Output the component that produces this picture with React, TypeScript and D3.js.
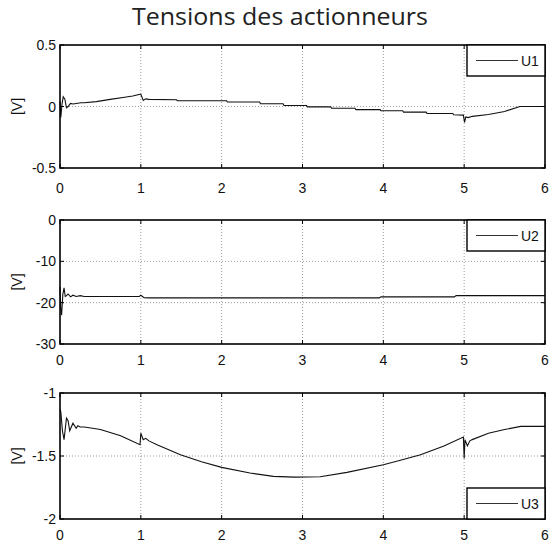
import React from "react";
import * as d3 from "d3";

const xTicks = [0, 1, 2, 3, 4, 5, 6];

const u1T = [0, 0.01, 0.025, 0.04, 0.06, 0.08, 0.1, 0.13, 0.16, 0.2, 0.26, 0.3, 0.45, 0.62, 0.8, 0.9, 0.99, 1.0, 1.03, 1.06, 1.1, 1.44, 1.45, 2.06, 2.07, 2.47, 2.48, 2.76, 2.77, 3.05, 3.06, 3.35, 3.36, 3.65, 3.66, 3.96, 3.97, 4.24, 4.25, 4.53, 4.54, 4.86, 4.87, 4.99, 5.005, 5.02, 5.05, 5.1, 5.3, 5.5, 5.69, 5.75, 6];
const u1V = [0.04, -0.09, 0.02, 0.08, 0.06, -0.01, 0.0, 0.025, 0.02, 0.025, 0.03, 0.03, 0.04, 0.058, 0.075, 0.085, 0.1, 0.1, 0.05, 0.062, 0.058, 0.055, 0.047, 0.047, 0.036, 0.036, 0.022, 0.022, 0.008, 0.008, -0.003, -0.003, -0.014, -0.014, -0.025, -0.025, -0.035, -0.035, -0.046, -0.046, -0.057, -0.057, -0.067, -0.07, -0.13, -0.085, -0.09, -0.08, -0.065, -0.04, 0.0, 0.0, 0.0];

const u2T = [0, 0.01, 0.02, 0.035, 0.05, 0.065, 0.08, 0.1, 0.13, 0.16, 0.2, 0.25, 0.3, 0.98, 1.0, 1.04, 1.1, 3.95, 3.97, 4.88, 4.9, 6];
const u2V = [-16.2, -21.5, -23, -18, -16.4, -18.5, -18.3, -17.9, -18.6, -18.2, -18.5, -18.3, -18.5, -18.5, -18.2, -18.8, -18.85, -18.85, -18.6, -18.6, -18.3, -18.3];

const u3T = [0, 0.01, 0.03, 0.05, 0.08, 0.1, 0.12, 0.16, 0.2, 0.22, 0.25, 0.3, 0.5, 0.75, 0.99, 1.0, 1.03, 1.06, 1.1, 1.2, 1.49, 1.75, 2.0, 2.35, 2.64, 2.9, 3.22, 3.55, 4.0, 4.2, 4.46, 4.75, 4.99, 5.0, 5.01, 5.04, 5.07, 5.1, 5.3, 5.5, 5.7, 6];
const u3V = [-1.13, -1.15, -1.3, -1.37, -1.2, -1.22, -1.3, -1.24, -1.28, -1.26, -1.27, -1.27, -1.29, -1.34, -1.41, -1.32, -1.37, -1.36, -1.38, -1.41, -1.49, -1.545, -1.59, -1.635, -1.662, -1.668, -1.665, -1.63, -1.57, -1.535, -1.49, -1.42, -1.35, -1.52, -1.37, -1.42, -1.38, -1.37, -1.32, -1.29, -1.265, -1.265];

const panels = [
  { name: "U1", t: u1T, v: u1V, domain: [-0.5, 0.5], yTicks: [-0.5, 0, 0.5], top: 45, bottom: 168, legend: "top", labelY: 193 },
  { name: "U2", t: u2T, v: u2V, domain: [-30, 0], yTicks: [-30, -20, -10, 0], top: 220, bottom: 344, legend: "top", labelY: 365 },
  { name: "U3", t: u3T, v: u3V, domain: [-2, -1], yTicks: [-2, -1.5, -1], top: 393, bottom: 519, legend: "bottom", labelY: 540 },
];

const LEFT = 60;
const RIGHT = 545;
const FONT = "Liberation Sans, Arial, sans-serif";

function Panel({ p }: { p: any }) {
  const x = d3.scaleLinear().domain([0, 6]).range([LEFT, RIGHT]);
  const y = d3.scaleLinear().domain(p.domain).range([p.bottom, p.top]);
  const pts = p.t.map((t: number, i: number) => [t, p.v[i]] as [number, number]);
  const line = d3.line<[number, number]>().x((d) => x(d[0])).y((d) => y(d[1]));
  const lw = 78, lh = 31;
  const lx = RIGHT - lw;
  const ly = p.legend === "top" ? p.top : p.bottom - lh;
  const fmt = (v: number) => String(v);
  return (
    <g>
      {xTicks.slice(1, -1).map((t) => (
        <line key={"gx" + t} x1={x(t)} x2={x(t)} y1={p.top} y2={p.bottom} stroke="#999" strokeWidth={1} strokeDasharray="1,2" />
      ))}
      {p.yTicks.slice(1, -1).map((t: number) => (
        <line key={"gy" + t} x1={LEFT} x2={RIGHT} y1={y(t)} y2={y(t)} stroke="#999" strokeWidth={1} strokeDasharray="1,2" />
      ))}
      <path d={line(pts) || ""} fill="none" stroke="#111" strokeWidth={1.1} />
      {xTicks.map((t) => (
        <g key={"tx" + t}>
          <line x1={x(t)} x2={x(t)} y1={p.bottom} y2={p.bottom - 4} stroke="#000" />
          <line x1={x(t)} x2={x(t)} y1={p.top} y2={p.top + 4} stroke="#000" />
          <text x={x(t)} y={p.labelY} textAnchor="middle" fontFamily={FONT} fontSize={14} fill="#111">{t}</text>
        </g>
      ))}
      {p.yTicks.map((t: number) => (
        <g key={"ty" + t}>
          <line x1={LEFT} x2={LEFT + 4} y1={y(t)} y2={y(t)} stroke="#000" />
          <line x1={RIGHT} x2={RIGHT - 4} y1={y(t)} y2={y(t)} stroke="#000" />
          <text x={56} y={y(t) + 5} textAnchor="end" fontFamily={FONT} fontSize={14} fill="#111">{fmt(t)}</text>
        </g>
      ))}
      <rect x={LEFT} y={p.top} width={RIGHT - LEFT} height={p.bottom - p.top} fill="none" stroke="#000" strokeWidth={1.6} />
      <text transform={`translate(22,${(p.top + p.bottom) / 2}) rotate(-90)`} textAnchor="middle" fontFamily={FONT} fontSize={14} fill="#111">[V]</text>
      <rect x={lx} y={ly} width={lw} height={lh} fill="#fff" stroke="#000" strokeWidth={1.4} />
      <line x1={lx + 9} x2={lx + 51} y1={ly + lh / 2} y2={ly + lh / 2} stroke="#333" strokeWidth={1} />
      <text x={lx + 54} y={ly + lh / 2 + 5} fontFamily={FONT} fontSize={14} fill="#111">{p.name}</text>
    </g>
  );
}

export default function App() {
  return (
    <svg width={552} height={546} style={{ position: "absolute", left: 0, top: 0, background: "#fff" }}>
      <rect x={0} y={0} width={552} height={546} fill="#fff" />
      <text x={132} y={25} textLength={296} lengthAdjust="spacingAndGlyphs" fontFamily="Open Sans, sans-serif" fontSize={23} fill="#222">Tensions des actionneurs</text>
      {panels.map((p) => (
        <Panel key={p.name} p={p} />
      ))}
    </svg>
  );
}
